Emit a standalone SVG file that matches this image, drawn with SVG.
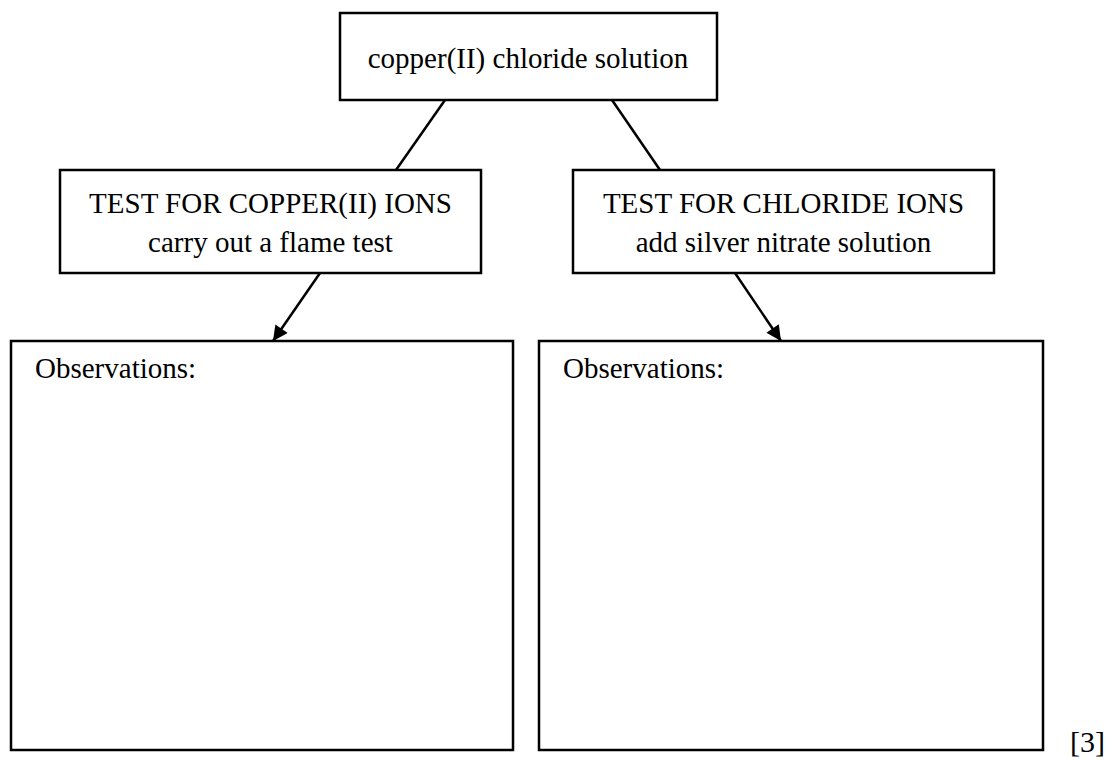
<svg xmlns="http://www.w3.org/2000/svg" width="1113" height="760" viewBox="0 0 1113 760">
<style>
.box{fill:#fff;stroke:#000;stroke-width:2.5}
.t{font-family:"Liberation Serif","Times New Roman",serif;font-size:29px;fill:#000}
.c{text-anchor:middle}
.ln{stroke:#000;stroke-width:2.5;fill:none}
</style>
<defs>
<marker id="ah2" viewBox="0 0 10 10" refX="10" refY="5" markerWidth="18" markerHeight="15" markerUnits="userSpaceOnUse" orient="auto">
<path d="M0,0 L10,5 L0,10 z" fill="#000"/>
</marker>
</defs>
<rect width="1113" height="760" fill="#fff"/>
<g id="connectors">
<line class="ln" x1="445" y1="100" x2="396" y2="170"/>
<line class="ln" x1="612" y1="100" x2="660" y2="170"/>
<line class="ln" x1="320" y1="273" x2="273" y2="341" marker-end="url(#ah2)"/>
<line class="ln" x1="735" y1="273" x2="781" y2="341" marker-end="url(#ah2)"/>
</g>
<g id="solution">
<rect class="box" x="340" y="13" width="377" height="87"/>
<text class="t c" x="528" y="68">copper(II) chloride solution</text>
</g>
<g id="test-copper">
<rect class="box" x="60" y="170" width="421" height="103"/>
<text class="t c" x="270.5" y="213">TEST FOR COPPER(II) IONS</text>
<text class="t c" x="270.5" y="252">carry out a flame test</text>
</g>
<g id="test-chloride">
<rect class="box" x="573" y="170" width="421" height="103"/>
<text class="t c" x="783.5" y="213">TEST FOR CHLORIDE IONS</text>
<text class="t c" x="783.5" y="252">add silver nitrate solution</text>
</g>
<g id="obs-left">
<rect class="box" x="11" y="341" width="502" height="409"/>
<text class="t" x="35" y="378">Observations:</text>
</g>
<g id="obs-right">
<rect class="box" x="539" y="341" width="504" height="409"/>
<text class="t" x="563" y="378">Observations:</text>
</g>
<text class="t" x="1070" y="752" style="font-size:30px">[3]</text>
</svg>
